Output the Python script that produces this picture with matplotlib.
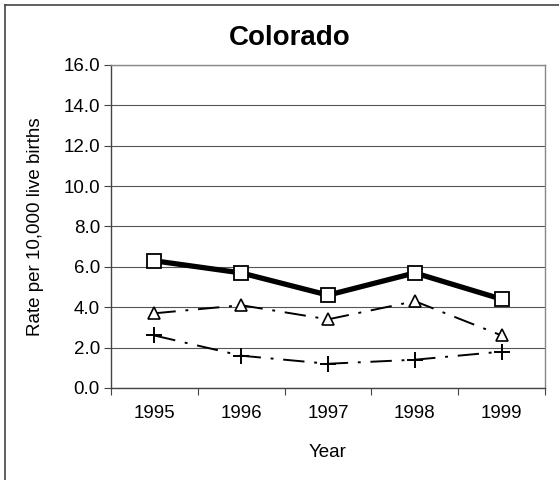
import matplotlib
matplotlib.use("Agg")
import matplotlib.pyplot as plt
import numpy as np

plt.rcParams["font.family"] = ["Liberation Sans", "DejaVu Sans"]

years = ["1995", "1996", "1997", "1998", "1999"]
series_square = [6.3, 5.7, 4.6, 5.7, 4.4]
series_triangle = [3.7, 4.1, 3.4, 4.3, 2.6]
series_plus = [2.6, 1.6, 1.2, 1.4, 1.8]
y_ticks = [0, 2, 4, 6, 8, 10, 12, 14, 16]

fig = plt.figure(figsize=(5.59, 4.8), dpi=100, facecolor="white")
ax = fig.add_axes([0.1986, 0.1917, 0.7764, 0.6729])

x = np.arange(1, len(years) + 1)

ax.plot(x, series_square, color="black", lw=3.8, marker="s", ms=10,
        mfc="white", mec="black", mew=1.3, zorder=4)
ax.plot(x, series_triangle, color="black", lw=1.4, dashes=(11, 5, 1.5, 5),
        marker="^", ms=9, mfc="white", mec="black", mew=1.2, zorder=3)
ax.plot(x, series_plus, color="black", lw=1.4, dashes=(11, 5, 1.5, 5),
        marker="+", ms=12, mec="black", mew=1.4, zorder=3)

ax.set_xlim(0.5, len(years) + 0.5)
ax.set_ylim(0, 16)
ax.set_yticks(y_ticks)
ax.set_yticklabels([f"{v:.1f}" for v in y_ticks], fontsize=13.5)
ax.set_xticks(np.arange(0.5, len(years) + 1, 1.0))
ax.set_xticklabels([])
ax.set_xticks(x, minor=True)
ax.set_xticklabels(years, minor=True, fontsize=13.5)
ax.tick_params(axis="x", which="minor", length=0, pad=12)
ax.tick_params(axis="x", which="major", length=5, direction="out", color="#444444")
ax.tick_params(axis="y", length=5, direction="out", color="#444444", pad=3)

ax.grid(True, axis="y", color="#555555", lw=0.8, zorder=0)
for side in ["top", "right"]:
    ax.spines[side].set_color("#888888")
    ax.spines[side].set_linewidth(1.0)
for side in ["left", "bottom"]:
    ax.spines[side].set_color("#444444")
    ax.spines[side].set_linewidth(1.0)

ax.set_xlabel("Year", fontsize=13.5, labelpad=16)
ax.set_ylabel("Rate per 10,000 live births", fontsize=13.5, labelpad=14)
fig.text(0.519, 0.92, "Colorado", fontsize=20, fontweight="bold",
         ha="center", va="center")

# outer chart frame (left and top edges)
fig.add_artist(plt.Line2D([0.009, 0.009], [0.0, 0.99], color="#444444", lw=1.2,
                          transform=fig.transFigure))
fig.add_artist(plt.Line2D([0.009, 1.0], [0.99, 0.99], color="#444444", lw=1.2,
                          transform=fig.transFigure))

plt.savefig("out.png", dpi=100)
